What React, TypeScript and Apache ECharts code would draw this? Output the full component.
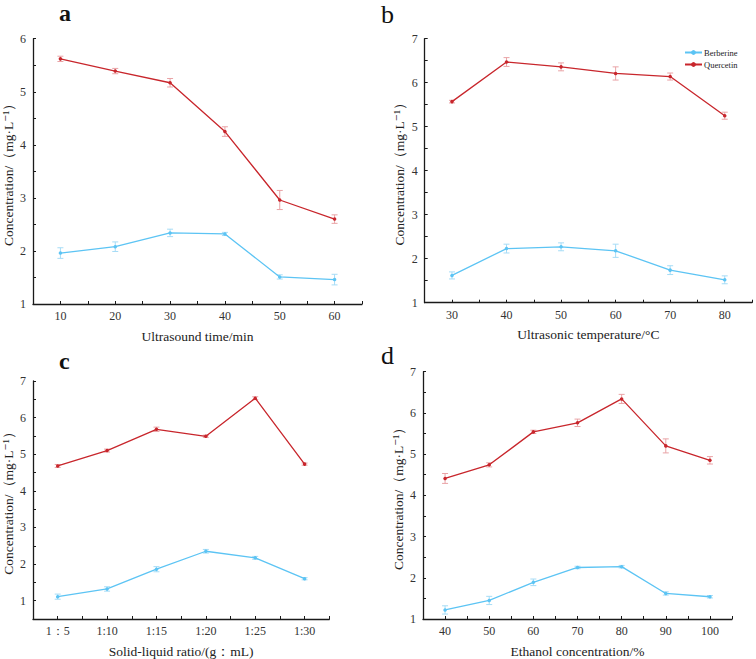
import React, { useEffect, useRef } from "react";
import * as echarts from "echarts";

// Panel a: ultrasound time
const aX = [10, 20, 30, 40, 50, 60];
const aQuercetin = [5.62, 5.39, 5.17, 4.25, 2.96, 2.6];
const aQuercetinErr = [0.05, 0.05, 0.08, 0.09, 0.18, 0.08];
const aBerberine = [1.96, 2.08, 2.34, 2.32, 1.51, 1.46];
const aBerberineErr = [0.1, 0.09, 0.07, 0.03, 0.04, 0.1];

// Panel b: ultrasonic temperature
const bX = [30, 40, 50, 60, 70, 80];
const bQuercetin = [5.57, 6.47, 6.36, 6.21, 6.14, 5.25];
const bQuercetinErr = [0.03, 0.1, 0.09, 0.15, 0.08, 0.08];
const bBerberine = [1.62, 2.23, 2.27, 2.18, 1.74, 1.52];
const bBerberineErr = [0.08, 0.1, 0.09, 0.15, 0.1, 0.09];

// Panel c: solid-liquid ratio
const cCategories = ["1：5", "1:10", "1:15", "1:20", "1:25", "1:30"];
const cQuercetin = [4.68, 5.1, 5.68, 5.49, 6.53, 4.73];
const cQuercetinErr = [0.04, 0.04, 0.06, 0.03, 0.04, 0.03];
const cBerberine = [1.11, 1.32, 1.86, 2.35, 2.17, 1.6];
const cBerberineErr = [0.07, 0.06, 0.07, 0.05, 0.04, 0.03];

// Panel d: ethanol concentration
const dX = [40, 50, 60, 70, 80, 90, 100];
const dQuercetin = [4.41, 4.74, 5.54, 5.76, 6.34, 5.2, 4.85];
const dQuercetinErr = [0.12, 0.05, 0.04, 0.09, 0.11, 0.17, 0.09];
const dBerberine = [1.22, 1.45, 1.89, 2.25, 2.27, 1.62, 1.54];
const dBerberineErr = [0.1, 0.1, 0.08, 0.03, 0.03, 0.04, 0.03];

const RED = "#c8262c";
const RED_ERR = "#e9a3a6";
const BLUE = "#5cc4f4";
const BLUE_ERR = "#a6dcf6";
const FONT = "'Liberation Serif', 'Times New Roman', 'DejaVu Serif', serif";
const Y_TITLE = "Concentration/（mg·L⁻¹）";

export default function App() {
  const ref = useRef<HTMLDivElement>(null);

  useEffect(() => {
    if (!ref.current) return;
    const chart = echarts.init(ref.current, undefined, { renderer: "svg" });

    const panels = [
      {
        grid: { left: 32, top: 38.7, width: 330, height: 265.3 },
        xs: aX, q: aQuercetin, qe: aQuercetinErr, b: aBerberine, be: aBerberineErr,
        xMin: 5, xMax: 65, xInt: 5, xLabel: (v: number) => (v % 10 === 0 ? String(v) : ""),
        yMin: 1, yMax: 6, xName: "Ultrasound time/min",
      },
      {
        grid: { left: 424.7, top: 38.7, width: 327.3, height: 264 },
        xs: bX, q: bQuercetin, qe: bQuercetinErr, b: bBerberine, be: bBerberineErr,
        xMin: 25, xMax: 85, xInt: 5, xLabel: (v: number) => (v % 10 === 0 ? String(v) : ""),
        yMin: 1, yMax: 7, xName: "Ultrasonic temperature/°C",
      },
      {
        grid: { left: 29.3, top: 381, width: 300, height: 241.3 },
        xs: cCategories.map((_, i) => i + 1), q: cQuercetin, qe: cQuercetinErr, b: cBerberine, be: cBerberineErr,
        xMin: 0.5, xMax: 6.5, xInt: 0.5,
        xLabel: (v: number) => (Number.isInteger(v) && v >= 1 && v <= cCategories.length ? cCategories[v - 1] : ""),
        yMin: 0.5, yMax: 7, xName: "Solid-liquid ratio/(g：mL)",
      },
      {
        grid: { left: 423, top: 371.7, width: 309, height: 249 },
        xs: dX, q: dQuercetin, qe: dQuercetinErr, b: dBerberine, be: dBerberineErr,
        xMin: 35, xMax: 105, xInt: 5, xLabel: (v: number) => (v % 10 === 0 ? String(v) : ""),
        yMin: 1, yMax: 7, xName: "Ethanol concentration/%",
      },
    ];

    const axisLine = { lineStyle: { color: "#1a1a1a", width: 1.3 } };
    const axisTick = { inside: true, length: 3, lineStyle: { color: "#1a1a1a", width: 1 } };
    const labelStyle = { fontFamily: FONT, fontSize: 12, color: "#333" };

    const errRender = (color: string) => (params: any, api: any) => {
      const x = api.value(0);
      const y = api.value(1);
      const e = api.value(2);
      const top = api.coord([x, y + e]);
      const bot = api.coord([x, y - e]);
      const hw = 3;
      const style = { stroke: color, lineWidth: 1 };
      return {
        type: "group",
        children: [
          { type: "line", shape: { x1: top[0], y1: top[1], x2: bot[0], y2: bot[1] }, style },
          { type: "line", shape: { x1: top[0] - hw, y1: top[1], x2: top[0] + hw, y2: top[1] }, style },
          { type: "line", shape: { x1: bot[0] - hw, y1: bot[1], x2: bot[0] + hw, y2: bot[1] }, style },
        ],
      };
    };

    const grids: any[] = [];
    const xAxes: any[] = [];
    const yAxes: any[] = [];
    const series: any[] = [];

    panels.forEach((p, i) => {
      grids.push({ ...p.grid, containLabel: false });
      xAxes.push({
        type: "value",
        gridIndex: i,
        min: p.xMin,
        max: p.xMax,
        interval: p.xInt,
        axisLine,
        axisTick,
        splitLine: { show: false },
        axisLabel: { ...labelStyle, margin: 6, formatter: p.xLabel, showMinLabel: true, showMaxLabel: true },
        name: p.xName,
        nameLocation: "middle",
        nameGap: 25,
        nameTextStyle: { fontFamily: FONT, fontSize: 13.5, color: "#222" },
      });
      yAxes.push({
        type: "value",
        gridIndex: i,
        min: p.yMin,
        max: p.yMax,
        interval: 0.5,
        axisLine: { show: true, ...axisLine },
        axisTick,
        splitLine: { show: false },
        axisLabel: {
          ...labelStyle,
          margin: 7,
          formatter: (v: number) => (Number.isInteger(v) ? String(v) : ""),
        },
        name: Y_TITLE,
        nameLocation: "middle",
        nameGap: 18,
        nameRotate: 90,
        nameTextStyle: { fontFamily: FONT, fontSize: 13.5, color: "#222" },
      });

      const qData = p.xs.map((x, k) => [x, p.q[k]]);
      const bData = p.xs.map((x, k) => [x, p.b[k]]);
      series.push({
        type: "custom",
        xAxisIndex: i,
        yAxisIndex: i,
        renderItem: errRender(BLUE_ERR),
        data: p.xs.map((x, k) => [x, p.b[k], p.be[k]]),
        z: 1,
        silent: true,
      });
      series.push({
        type: "custom",
        xAxisIndex: i,
        yAxisIndex: i,
        renderItem: errRender(RED_ERR),
        data: p.xs.map((x, k) => [x, p.q[k], p.qe[k]]),
        z: 1,
        silent: true,
      });
      series.push({
        name: "Berberine",
        type: "line",
        xAxisIndex: i,
        yAxisIndex: i,
        data: bData,
        symbol: "circle",
        symbolSize: 3.5,
        lineStyle: { color: BLUE, width: 1.3 },
        itemStyle: { color: BLUE },
        z: 3,
      });
      series.push({
        name: "Quercetin",
        type: "line",
        xAxisIndex: i,
        yAxisIndex: i,
        data: qData,
        symbol: "circle",
        symbolSize: 3.5,
        lineStyle: { color: RED, width: 1.3 },
        itemStyle: { color: RED },
        z: 3,
      });
    });

    chart.setOption({
      animation: false,
      backgroundColor: "#ffffff",
      grid: grids,
      xAxis: xAxes,
      yAxis: yAxes,
      legend: {
        data: ["Berberine", "Quercetin"],
        left: 679,
        top: 43,
        orient: "vertical",
        itemGap: 3,
        itemWidth: 17,
        itemHeight: 6,
        textStyle: { fontFamily: FONT, fontSize: 8.5, color: "#222", padding: [0, 0, 0, -3] },
      },
      graphic: [
        { type: "text", left: 59, top: 1, style: { text: "a", font: `bold 24px ${FONT}`, fill: "#111" } },
        { type: "text", left: 381, top: 1, style: { text: "b", font: `26px ${FONT}`, fill: "#111" } },
        { type: "text", left: 59, top: 349, style: { text: "c", font: `bold 24px ${FONT}`, fill: "#111" } },
        { type: "text", left: 381, top: 342, style: { text: "d", font: `26px ${FONT}`, fill: "#111" } },
      ],
      series,
    });

    return () => chart.dispose();
  }, []);

  return (
    <div
      ref={ref}
      style={{ position: "absolute", left: 0, top: 0, width: 756, height: 659, background: "#fff" }}
    />
  );
}
